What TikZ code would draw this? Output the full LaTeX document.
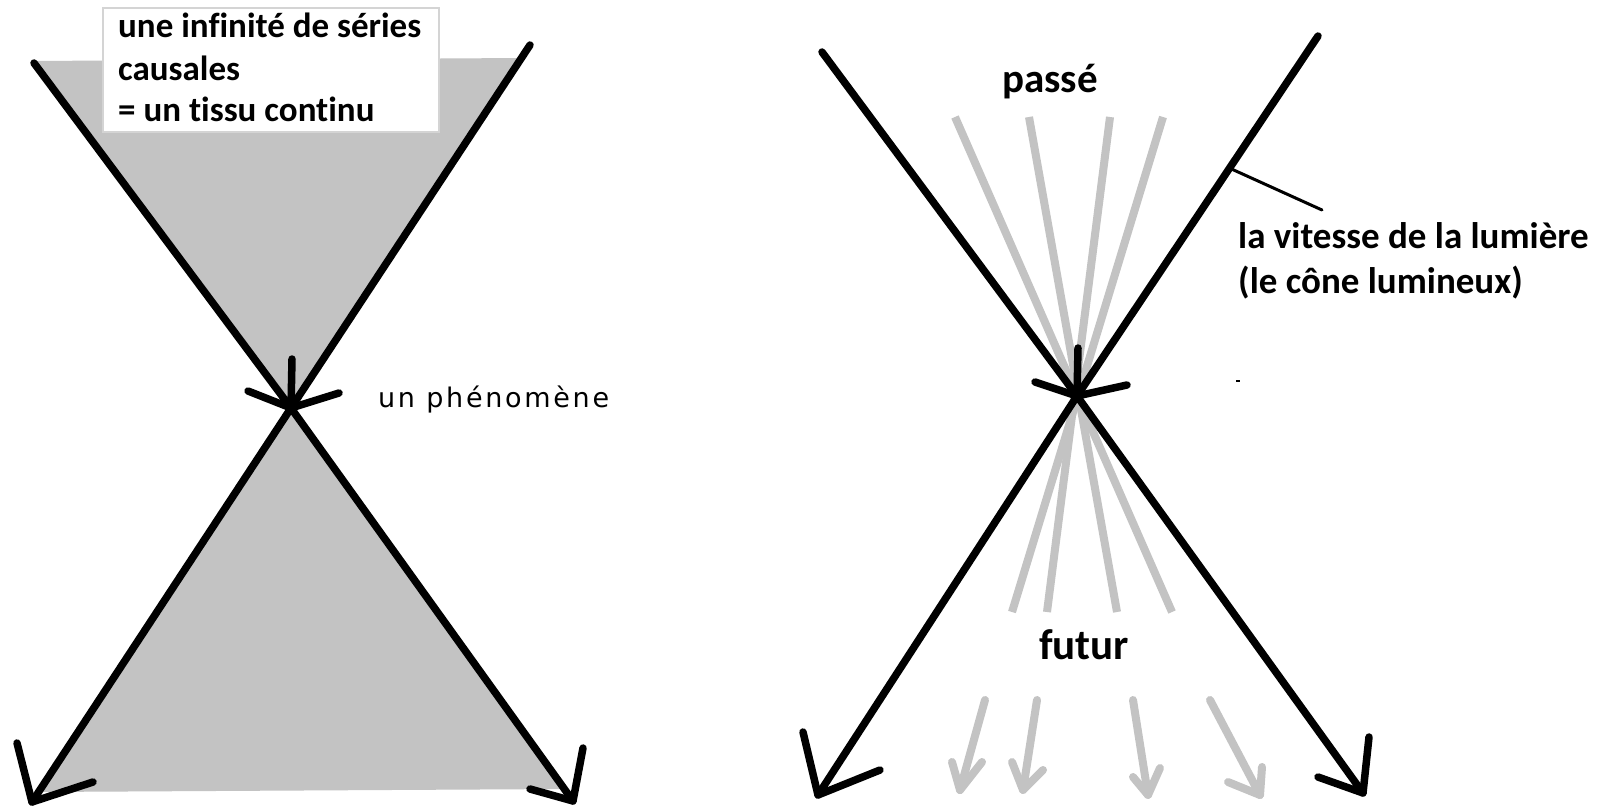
\documentclass[tikz,border=0pt]{standalone}
\usepackage{fontspec}
\usetikzlibrary{calc}
\newfontfamily\calfont[Ligatures=NoCommon]{Carlito}
\newfontfamily\phenfont[LetterSpace=10]{DejaVu Sans}
\definecolor{silver}{RGB}{195,195,195}
\definecolor{boxline}{RGB}{212,212,212}
\begin{document}
\begin{tikzpicture}[x=1pt,y=-1pt,
  blk/.style={line width=7.5pt, line cap=round, line join=round, black},
  ray/.style={line width=8pt, silver},
  rayarrow/.style={line width=8pt, silver, line cap=round, line join=round},
  lbl/.style={inner sep=0pt, anchor=base west, font=\calfont\bfseries}
]
\useasboundingbox (0,0) rectangle (1612,809);
\fill[white] (0,0) rectangle (1612,809);

% ---------------- left diagram ----------------
\coordinate (LC)  at (291,408);
\coordinate (LUL) at (34,63);
\coordinate (LUR) at (530,45);
\coordinate (LLL) at (32,802);
\coordinate (LLR) at (573,801);
\fill[silver] (31,61) -- (522,58) -- (LC) -- cycle;
\fill[silver] (LC) -- (566,789) -- (38,792) -- cycle;

\node[draw=boxline, fill=white, line width=1.5pt, inner sep=0pt,
      minimum width=336pt, minimum height=124pt, anchor=north west] (box) at (102,7) {};
\node[lbl, font=\calfont\bfseries\fontsize{35}{42}\selectfont] (t1) at (118,37) {une infinité de séries};
\node[lbl, font=\calfont\bfseries\fontsize{35}{42}\selectfont] (t2) at (118,80) {causales};
\node[lbl, font=\calfont\bfseries\fontsize{35}{42}\selectfont] (t3) at (118,121) {= un tissu continu};

\draw[blk] (LUL) -- (LC);
\draw[blk] (LUR) -- (LC);
\draw[blk] (LC) -- (LLL);
\draw[blk] (LC) -- (LLR);
\coordinate (LS1) at (292,359);
\coordinate (LS2) at (248,391);
\coordinate (LS3) at (339,393);
\draw[blk] (LS1) -- (LC);
\draw[blk] (LS2) -- (LC);
\draw[blk] (LS3) -- (LC);
\coordinate (LA1) at (17,743);
\coordinate (LA2) at (93,782);
\coordinate (LA3) at (583,748);
\coordinate (LA4) at (530,789);
\draw[blk] (LA1) -- (LLL) -- (LA2);
\draw[blk] (LA3) -- (LLR) -- (LA4);

\node[inner sep=0pt, anchor=base west, font=\phenfont\fontsize{27}{32}\selectfont] (phen) at (378,407) {un phénomène};

% ---------------- right diagram ----------------
\coordinate (RC)  at (1077,396);
\coordinate (RUL) at (822,52);
\coordinate (RUR) at (1318,36);
\coordinate (RLL) at (818,795);
\coordinate (RLR) at (1363,793);

% grey world lines through the event
\coordinate (G1t) at (955,117);  \coordinate (G1b) at (1172,612);
\coordinate (G2t) at (1029,117); \coordinate (G2b) at (1117,612);
\coordinate (G3t) at (1110,117); \coordinate (G3b) at (1047,612);
\coordinate (G4t) at (1163,117); \coordinate (G4b) at (1012,612);
\draw[ray] (G1t) -- (G1b);
\draw[ray] (G2t) -- (G2b);
\draw[ray] (G3t) -- (G3b);
\draw[ray] (G4t) -- (G4b);

% grey arrows below "futur"
\coordinate (Ga) at (985,700);  \coordinate (Gat) at (960,790);
\coordinate (Gb) at (1037,700); \coordinate (Gbt) at (1023,790);
\coordinate (Gc) at (1133,700); \coordinate (Gct) at (1148,795);
\coordinate (Gd) at (1210,700); \coordinate (Gdt) at (1260,795);
\draw[rayarrow] (Ga) -- (Gat);
\draw[rayarrow] (952,762) -- (Gat) -- (982,762);
\draw[rayarrow] (Gb) -- (Gbt);
\draw[rayarrow] (1012,762) -- (Gbt) -- (1043,770);
\draw[rayarrow] (Gc) -- (Gct);
\draw[rayarrow] (1133,777) -- (Gct) -- (1160,768);
\draw[rayarrow] (Gd) -- (Gdt);
\draw[rayarrow] (1228,782) -- (Gdt) -- (1262,767);

% black light cone
\draw[blk] (RUL) -- (RC);
\draw[blk] (RUR) -- (RC);
\draw[blk] (RC) -- (RLL);
\draw[blk] (RC) -- (RLR);
\coordinate (RS1) at (1078,348);
\coordinate (RS2) at (1035,382);
\coordinate (RS3) at (1127,385);
\draw[blk] (RS1) -- (RC);
\draw[blk] (RS2) -- (RC);
\draw[blk] (RS3) -- (RC);
\coordinate (RA1) at (803,732);
\coordinate (RA2) at (880,770);
\coordinate (RA3) at (1369,737);
\coordinate (RA4) at (1318,777);
\draw[blk] (RA1) -- (RLL) -- (RA2);
\draw[blk] (RA3) -- (RLR) -- (RA4);

% pointer to label
\coordinate (P0) at ($(RUR)!0.367!(RC)$);
\coordinate (P1) at (1322,210);
\draw[line width=3pt, line cap=round] (P0) -- (P1);
\coordinate (dotA) at (1236,381);
\coordinate (dotB) at (1240,381);
\draw[line width=1.5pt] (dotA) -- (dotB);

\node[lbl, font=\calfont\bfseries\fontsize{41}{48}\selectfont] (passe) at (1002,92) {passé};
\node[lbl, font=\calfont\bfseries\fontsize{43}{50}\selectfont] (futur) at (1039,659) {futur};
\node[lbl, font=\calfont\bfseries\fontsize{37}{45}\selectfont] (vit1) at (1238,248) {la vitesse de la lumière};
\node[lbl, font=\calfont\bfseries\fontsize{37}{45}\selectfont] (vit2) at (1238,293) {(le cône lumineux)};
\end{tikzpicture}
\end{document}
